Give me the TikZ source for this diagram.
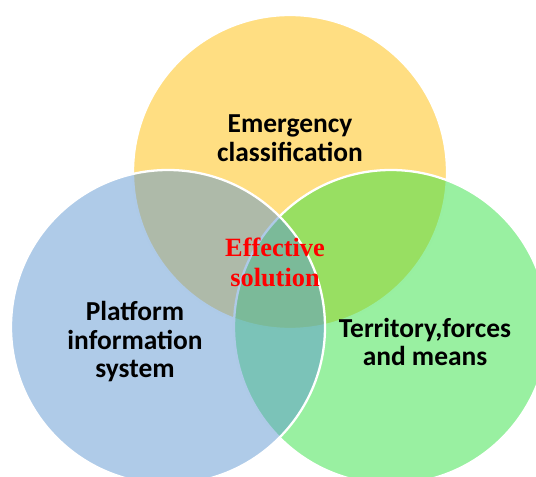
\documentclass[tikz,border=0pt]{standalone}
\usepackage{fontspec}
\setmainfont{Liberation Serif}
\newfontfamily\etiqueta{Carlito}
\definecolor{amarillo}{RGB}{255,222,130}
\definecolor{azul}{RGB}{95,151,209}
\definecolor{verde}{RGB}{51,225,67}
\begin{document}
\begin{tikzpicture}[
    conjunto/.style={draw=white, line width=1.3pt},
    texto/.style={align=center, font=\etiqueta\bfseries\fontsize{15.6}{16.2}\selectfont},
    centro/.style={align=center, text=red, font=\rmfamily\bfseries\fontsize{15}{17}\selectfont}]
                \useasboundingbox (0,0) rectangle (10.72,-9.54);
                \clip (0,0) rectangle (10.72,-9.54);
                % Clasificacion
                \draw[conjunto, fill=amarillo] (5.80,-3.44) circle (3.14cm);
                % Territorio
                \draw[conjunto, fill=verde, fill opacity=0.5] (7.82,-6.54) circle (3.14cm);
                % Plataforma
                \draw[conjunto, fill=azul, fill opacity=0.5] (3.36,-6.54) circle (3.14cm);
                % Textos
                \node[texto] (clasif) at (5.80,-2.76) {Emergency\\classification};
                \node[texto] (plataf) at (2.70,-6.84) {Platform\\information\\system};
                \node[texto] (territ) at (8.50,-6.84) {Territory,forces\\and means};
                \node[centro] (efect) at (5.50,-5.24) {Effective\\solution};
\end{tikzpicture}
\end{document}
